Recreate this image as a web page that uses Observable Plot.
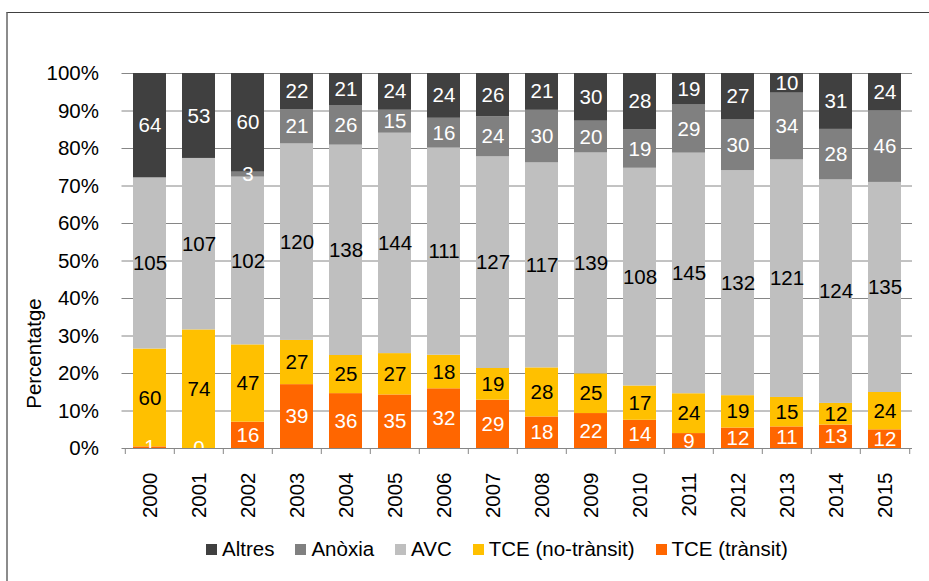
<!DOCTYPE html>
<html>
<head>
<meta charset="utf-8">
<script src="https://cdn.jsdelivr.net/npm/d3@7"></script>
<script src="https://cdn.jsdelivr.net/npm/@observablehq/plot@0.6"></script>
<style>
  html, body { margin: 0; padding: 0; background: white; }
  #wrap { position: relative; width: 929px; height: 581px; overflow: hidden; font-family: "Liberation Sans", Arial, sans-serif; }
  #frame { position: absolute; left: 6px; top: 12px; right: -5px; bottom: -5px; border-left: 2px solid #8c8c8c; border-top: 1px solid #404040; pointer-events: none; }
  #legend { position: absolute; left: 206px; top: 537px; display: flex; align-items: center; font-size: 20.5px; line-height: 24px; color: #000; }
  #legend .item { display: flex; align-items: center; margin-right: 21px; }
  #legend .sw { width: 11px; height: 11px; margin-right: 5px; }
</style>
</head>
<body>
<div id="wrap"></div>
<script>
// ---- data ----
const years = ["2000","2001","2002","2003","2004","2005","2006","2007","2008","2009","2010","2011","2012","2013","2014","2015"];
const seriesNames = ["TCE (trànsit)", "TCE (no-trànsit)", "AVC", "Anòxia", "Altres"]; // bottom to top
const tceTransit   = [1, 0, 16, 39, 36, 35, 32, 29, 18, 22, 14, 9, 12, 11, 13, 12];
const tceNoTransit = [60, 74, 47, 27, 25, 27, 18, 19, 28, 25, 17, 24, 19, 15, 12, 24];
const avc          = [105, 107, 102, 120, 138, 144, 111, 127, 117, 139, 108, 145, 132, 121, 124, 135];
const anoxia       = [null, null, 3, 21, 26, 15, 16, 24, 30, 20, 19, 29, 30, 34, 28, 46];
const altres       = [64, 53, 60, 22, 21, 24, 24, 26, 21, 30, 28, 19, 27, 10, 31, 24];
const seriesColors = ["#FF6600", "#FFC000", "#BFBFBF", "#808080", "#404040"];
const labelColors  = ["white", "black", "black", "white", "white"];
const legendOrder  = ["Altres", "Anòxia", "AVC", "TCE (no-trànsit)", "TCE (trànsit)"];
const yTicks = [0, 0.1, 0.2, 0.3, 0.4, 0.5, 0.6, 0.7, 0.8, 0.9, 1];

const seriesValues = [tceTransit, tceNoTransit, avc, anoxia, altres];
const rows = [];
seriesNames.forEach((s, si) => {
  years.forEach((y, yi) => {
    const v = seriesValues[si][yi];
    if (v != null) rows.push({year: y, series: s, value: v});
  });
});
const colorOf = Object.fromEntries(seriesNames.map((s, i) => [s, seriesColors[i]]));
const labelOf = Object.fromEntries(seriesNames.map((s, i) => [s, labelColors[i]]));

const W = 929, H = 581;
const mL = 121.5, mR = 17, mT = 73, mB = 133;
const step = (W - mL - mR) / years.length;

const stackOpts = {x: "year", y: "value", z: "series", offset: "normalize"};

const chart = Plot.plot({
  width: W,
  height: H,
  marginLeft: mL,
  marginRight: mR,
  marginTop: mT,
  marginBottom: mB,
  style: {fontFamily: "'Liberation Sans', Arial, sans-serif", fontSize: "20.5px", color: "black", background: "transparent"},
  x: {domain: years, paddingInner: 0.33, paddingOuter: 0.165, axis: null},
  y: {domain: [0, 1], ticks: yTicks, tickFormat: d3.format(".0%"), tickSize: 0, tickPadding: 23, label: null},
  color: {domain: seriesNames, range: seriesColors},
  marks: [
    Plot.ruleY(yTicks, {stroke: "#868686", strokeWidth: 1}),
    Plot.barY(rows, Plot.stackY({...stackOpts, fill: "series"})),
    Plot.text(rows, Plot.stackY({...stackOpts,
      text: d => labelOf[d.series] === "white" ? String(d.value) : "",
      fill: "white", clip: true})),
    Plot.text(rows, Plot.stackY({...stackOpts,
      text: d => labelOf[d.series] === "black" ? String(d.value) : "",
      fill: "black", clip: true})),
    Plot.ruleX(years, {x: d => d, y1: 0, y2: 0, insetBottom: -6, dx: -step / 2, stroke: "#868686"}),
    Plot.ruleX([years[years.length - 1]], {x: d => d, y1: 0, y2: 0, insetBottom: -6, dx: step / 2, stroke: "#868686"}),
    Plot.text(years, {x: d => d, y: 0, text: d => d, dy: 24, rotate: -90, textAnchor: "end", lineAnchor: "middle", fill: "black"}),
    Plot.text(["Percentatge"], {text: d => d, frameAnchor: "left", textAnchor: "middle", lineAnchor: "middle", dx: -87.5, dy: 92.5, rotate: -90, fill: "black"})
  ]
});

const wrap = document.getElementById("wrap");
wrap.appendChild(chart);

const frame = document.createElement("div");
frame.id = "frame";
wrap.appendChild(frame);

const legend = document.createElement("div");
legend.id = "legend";
legendOrder.forEach(name => {
  const item = document.createElement("div");
  item.className = "item";
  const sw = document.createElement("div");
  sw.className = "sw";
  sw.style.background = colorOf[name];
  const lab = document.createElement("span");
  lab.textContent = name;
  item.appendChild(sw);
  item.appendChild(lab);
  legend.appendChild(item);
});
wrap.appendChild(legend);
</script>
</body>
</html>
